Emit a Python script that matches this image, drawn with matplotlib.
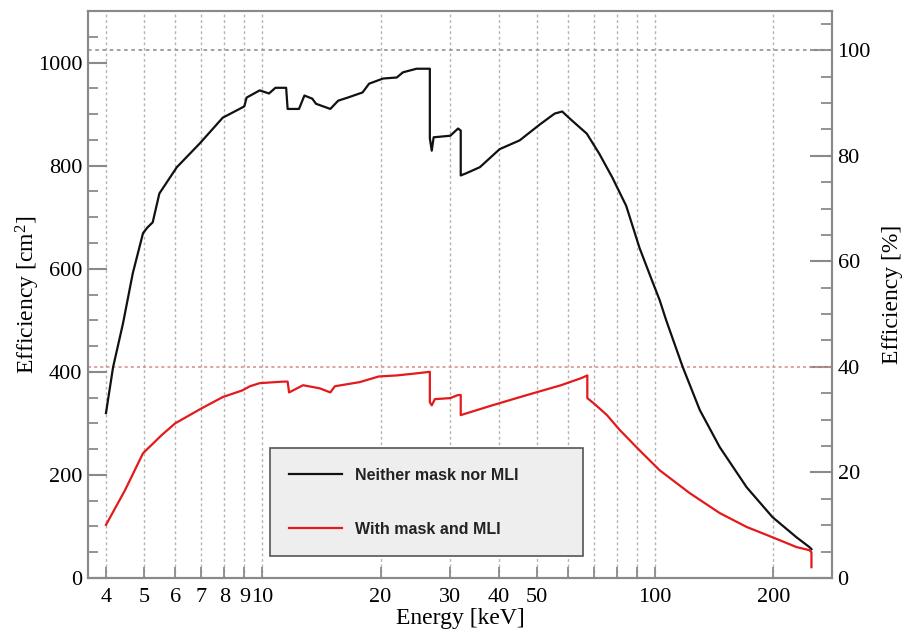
import matplotlib

matplotlib.use("Agg")
import matplotlib.pyplot as plt
from matplotlib.ticker import FixedLocator, MultipleLocator, NullFormatter

# ── data ────────────────────────────────────────────────────────────────────
ENERGY_BARE = [4.0, 4.17, 4.42, 4.68, 4.97, 5.1, 5.26, 5.47, 6.06, 6.93, 7.93, 8.75,
               9.0, 9.12, 9.85, 10.4, 10.8, 11.5, 11.6, 12.4, 12.8, 13.4, 13.7, 14.9,
               15.6, 16.5, 18.0, 18.7, 20.3, 22.0, 22.8, 24.7, 26.7, 26.7, 27.0, 27.3,
               30.1, 31.5, 32.0, 32.0, 33.0, 35.8, 40.2, 45.2, 50.9, 55.5, 58.0, 60.7,
               67.0, 72.1, 77.8, 84.4, 91.2, 98.2, 102.7, 106.7, 117.6, 129.9, 146.0,
               171.0, 199.0, 229.0, 247.0, 250.0]
AREA_BARE = [320, 409, 494, 591, 669, 680, 690, 746, 797, 843, 893, 910,
             915, 932, 946, 940, 951, 951, 910, 910, 936, 930, 920, 910,
             926, 932, 942, 959, 969, 971, 981, 988, 988, 853, 829, 855,
             858, 872, 868, 781, 785, 797, 832, 849, 880, 901, 905, 891,
             862, 823, 777, 722, 641, 577, 539, 500, 409, 326, 254,
             176, 118, 79, 60, 56]

ENERGY_MASK = [4.0, 4.47, 4.97, 5.54, 6.0, 7.0, 7.93, 8.9, 9.3, 9.85,
               11.3, 11.6, 11.7, 12.7, 14.0, 14.9, 15.3, 17.7, 19.8, 22.0,
               24.0, 26.7, 26.7, 27.0, 27.5, 30.1, 31.5, 32.0, 32.0, 38.5,
               47.2, 57.6, 65.0, 67.2, 67.2, 70.0, 75.4, 81.3, 91.2, 102.7,
               122.3, 146.0, 171.0, 199.0, 229.0, 247.0, 250.0, 250.0]
AREA_MASK = [103, 170, 242, 277, 300, 329, 351, 364, 372, 378,
             381, 381, 360, 374, 368, 360, 372, 380, 391, 393,
             396, 400, 341, 335, 347, 349, 355, 355, 316, 335,
             355, 374, 388, 393, 349, 338, 316, 287, 248, 209,
             165, 126, 99, 79, 60, 54, 50, 21]

GEOM_AREA = 1024  # cm2, corresponds to 100 %
X_LABELED = [4, 5, 6, 7, 8, 9, 10, 20, 30, 40, 50, 100, 200]
X_UNLABELED = [60, 70, 80, 90]

# ── style ───────────────────────────────────────────────────────────────────
BLACK = "#111111"
RED = "#e3191c"
FRAME = "#8a8a8a"
GRID = "#b4b4b4"
SERIF = "Liberation Serif"

plt.rcParams["font.family"] = [SERIF, "DejaVu Serif"]
plt.rcParams["mathtext.fontset"] = "custom"
plt.rcParams["mathtext.rm"] = SERIF
plt.rcParams["mathtext.it"] = SERIF

fig = plt.figure(figsize=(9.02, 6.37), dpi=100)
ax = fig.add_axes([88 / 902, 1 - 578 / 637, 744 / 902, 567 / 637])
ax2 = ax.twinx()

ax.plot(ENERGY_BARE, AREA_BARE, color=BLACK, lw=1.6, label="Neither mask nor MLI", zorder=4)
ax.plot(ENERGY_MASK, AREA_MASK, color=RED, lw=1.6, label="With mask and MLI", zorder=4)

ax.axhline(GEOM_AREA, color="#9a9a9a", lw=1.3, ls=(0, (2, 2)), zorder=2)
ax.axhline(0.4 * GEOM_AREA, color="#d58a8a", lw=1.1, ls=(0, (2, 2)), zorder=2)

ax.set_xscale("log")
ax.set_xlim(3.6, 282)
ax.set_ylim(0, 1100)
ax2.set_ylim(0, 1100 / GEOM_AREA * 100)

ax.xaxis.set_major_locator(FixedLocator(X_LABELED))
ax.xaxis.set_minor_locator(FixedLocator(X_UNLABELED))
ax.set_xticklabels([str(v) for v in X_LABELED])
ax.xaxis.set_minor_formatter(NullFormatter())
ax.grid(which="both", axis="x", color=GRID, ls=(0, (2, 2)), lw=1.0, zorder=1)

ax.yaxis.set_major_locator(MultipleLocator(200))
ax.yaxis.set_minor_locator(MultipleLocator(50))
ax2.yaxis.set_major_locator(MultipleLocator(20))
ax2.yaxis.set_minor_locator(MultipleLocator(5))

ax.tick_params(axis="y", which="major", direction="in", length=14, width=1.5,
               color=FRAME, labelsize=16, pad=4, right=False)
ax.tick_params(axis="y", which="minor", direction="in", length=7, width=1.3,
               color=FRAME, right=False)
ax.tick_params(axis="x", which="major", direction="in", length=8, width=1.3,
               color=FRAME, labelsize=16, pad=7, top=False)
ax.tick_params(axis="x", which="minor", direction="in", length=8, width=1.3,
               color=FRAME, top=False)
ax2.tick_params(axis="y", which="major", direction="in", length=16, width=1.5,
                color=FRAME, labelsize=16, pad=4)
ax2.tick_params(axis="y", which="minor", direction="in", length=8, width=1.3,
                color=FRAME)

for a in (ax, ax2):
    for sp in a.spines.values():
        sp.set_color(FRAME)
        sp.set_linewidth(1.5)

ax.set_xlabel("Energy [keV]", fontsize=17)
ax.xaxis.set_label_coords(0.5, -0.053)
ax.set_ylabel(r"Efficiency [cm$^{2}$]", fontsize=17, va="center")
ax.yaxis.set_label_coords(-0.081, 0.5)
ax2.set_ylabel("Efficiency [%]", fontsize=17, va="center", rotation=90)
ax2.yaxis.set_label_coords(1.081, 0.5)

leg = ax.legend(loc="lower left", bbox_to_anchor=(0.2446, 0.0388, 0.4207, 0.1887),
                mode="expand", borderaxespad=0, frameon=True, fancybox=False,
                framealpha=1, facecolor="#eeeeee", edgecolor="#555555",
                borderpad=1.22, labelspacing=2.42, handlelength=3.3, handletextpad=0.8,
                prop={"family": "Liberation Sans", "weight": "bold", "size": 11.5})
leg.get_frame().set_linewidth(1.2)
for t in leg.get_texts():
    t.set_color("#222222")
ax.set_zorder(ax2.get_zorder() + 1)
ax.patch.set_visible(False)

fig.savefig("out.png", dpi=100)
